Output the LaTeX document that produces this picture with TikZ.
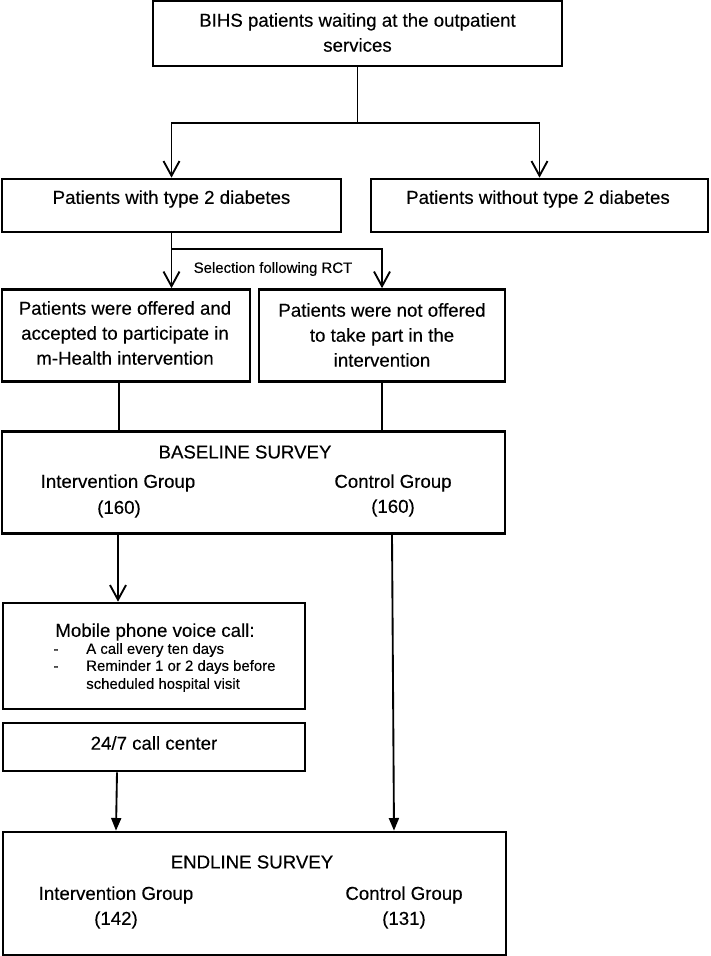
\documentclass[tikz,border=0pt]{standalone}
\usepackage{fontspec}
\setmainfont{Liberation Sans}[FakeBold=0.3]
\usetikzlibrary{arrows.meta}
\begin{document}
\begin{tikzpicture}[x=0.75pt,y=-0.75pt,
  box/.style={draw,line width=2pt,rectangle,inner sep=0pt,minimum width=#1},
  txt/.style={inner sep=0pt,font=\fontsize{14}{18.75}\selectfont,align=center},
  small/.style={inner sep=0pt,font=\fontsize{11.2}{13.1}\selectfont},
  conn/.style={line width=1.4pt},
  openarr/.style={conn,-{Straight Barb[length=11pt,width=12pt]}},
  fillarr/.style={conn,-{Triangle[length=9.5pt,width=7.5pt]}}]
\useasboundingbox (0,0) rectangle (710,956);
% boxes
\node[box=306.75pt,minimum height=48.75pt] (top) at (357.5,33.5) {};
\node[box=254.25pt,minimum height=39.75pt] (diab) at (171.5,205.5) {};
\node[box=252.75pt,minimum height=39.75pt] (nodiab) at (539.5,205.5) {};
\node[box=186pt,minimum height=69pt] (offered) at (126,335.5) {};
\node[box=184.5pt,minimum height=69pt] (notoff) at (382,335.5) {};
\node[box=377.25pt,minimum height=76.5pt] (baseline) at (253.5,482.5) {};
\node[box=226.5pt,minimum height=79.5pt] (mobile) at (154,656) {};
\node[box=226.5pt,minimum height=36pt] (callc) at (154,747) {};
\node[box=377.25pt,minimum height=92.25pt] (endline) at (254.5,893.5) {};
% texts
\node[txt] (t1) at (357.5,32.5) {BIHS patients waiting at the outpatient\\services};
\node[txt] (t2) at (171.5,199) {Patients with type 2 diabetes};
\node[txt] (t3) at (538,199) {Patients without type 2 diabetes};
\node[small] (sel) at (273,269) {Selection following RCT};
\node[txt] (t4) at (125,333) {Patients were offered and\\accepted to participate in\\m-Health intervention};
\node[txt] (t5) at (382,335) {Patients were not offered\\to take part in the\\intervention};
\node[txt] (b0) at (245,452) {BASELINE SURVEY};
\node[txt] (b1) at (118,483) {Intervention Group};
\node[txt] (b2) at (119,509) {(160)};
\node[txt] (b3) at (393,483) {Control Group};
\node[txt] (b4) at (393,508) {(160)};
\node[txt] (m0) at (155,632) {Mobile phone voice call:};
\node[small,anchor=west] (m1) at (86,650) {A call every ten days};
\node[small,anchor=west] (m2) at (86,667) {Reminder 1 or 2 days before};
\node[small,anchor=west] (m3) at (86,685) {scheduled hospital visit};
\coordinate (dx) at (56,0);
\node[small,anchor=base] (d1) at (m1.base -| dx) {-};
\node[small,anchor=base] (d2) at (m2.base -| dx) {-};
\node[txt] (c0) at (154,743) {24/7 call center};
\node[txt] (e0) at (252,862) {ENDLINE SURVEY};
\node[txt] (e1) at (116,895) {Intervention Group};
\node[txt] (e2) at (116,920) {(142)};
\node[txt] (e3) at (404,895) {Control Group};
\node[txt] (e4) at (404,920) {(131)};
% junction coordinates
\coordinate (j1) at (357.5,123);
\coordinate (j2) at (171.5,249);
\coordinate (x1) at (119,0);
\coordinate (x2) at (118,0);
\coordinate (x3) at (392,0);
\coordinate (x4) at (394,0);
\coordinate (x5) at (117,0);
\coordinate (x6) at (116,0);
% connectors
\draw[conn] (top.south) -- (j1);
\draw[openarr] (j1) -| (diab.north);
\draw[openarr] (j1) -| (nodiab.north);
\draw[conn] (diab.south) -- (j2);
\draw[openarr] (j2) -| (notoff.north);
\draw[openarr] (j2) -- (j2 |- offered.north);
\draw[conn] (x1 |- offered.south) -- (x1 |- baseline.north);
\draw[conn] (notoff.south) -- (notoff.south |- baseline.north);
\draw[openarr] (x2 |- baseline.south) -- (x2 |- mobile.north);
\draw[fillarr] (x3 |- baseline.south) -- (x4 |- endline.north);
\draw[fillarr] (x5 |- callc.south) -- (x6 |- endline.north);
\end{tikzpicture}
\end{document}
